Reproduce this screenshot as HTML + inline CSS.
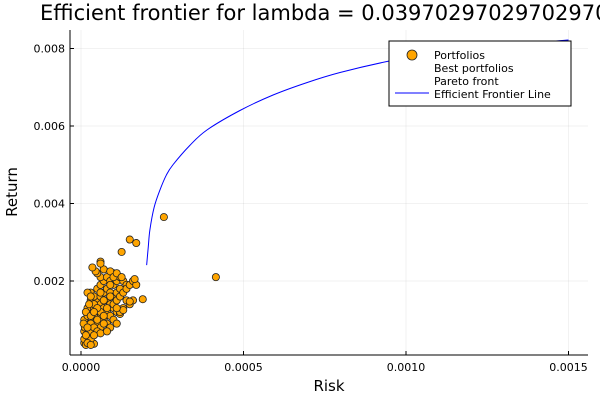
<!DOCTYPE html>
<html><head><meta charset="utf-8"><style>
body{margin:0;background:#fff;}
svg{display:block;font-family:"DejaVu Sans","Liberation Sans",sans-serif;}
</style></head><body>
<svg id="chart" width="600" height="400"></svg>
<script>
const xTicks=[0,0.0005,0.0010,0.0015];
const xTickLabels=["0.0000","0.0005","0.0010","0.0015"];
const yTicks=[0.002,0.004,0.006,0.008];
const yTickLabels=["0.002","0.004","0.006","0.008"];
// portfolios: risk (x1e-5), return (x1e-4)
const portRisk=[1,1.5,1,2,1,1.2,2,3,2.5,4,1,2,3,4,5,6,3,2,4,5,6,7,3,5,6,7,8,9,3,4,6,7,8,9,10,11,12,5,6,7,8,9,10,11,12,6,8,9,10,11,5,7,10,12,13,14,9,6,2,3,4,2.5,1.5,0.8,4,5,6,8,9,10,11,12,13,14,15,16,4,5,7,8,3,4,2,3,7,9,10,11,12,8,6,7,13,14,10,11,15,16,5,3,2,1.5,4,6,9,12.5,15,17,25.5,41.5,19,15,17,16.5,12.5,13,11,6,4.5,3.5];
const portReturn=[4,3.5,5,6,7,8,9,7,5,3.8,10,11,12,10,9,8,9,13,13,12,11,10,15,15,14,13,12,11,17,16,16,17,15,14,13,12,11.5,18,19,20,18,17,16,17,18,21,21,20,19,20,22,23,22,21,20,19,22.5,25,17,16,14,14,12,9,8,7,6.5,9,8,10,9,12,13,15,14,15,11,10,9,7,5,6,4,3.5,15,16,14,15,16,13,12,11,17,18,21,22,19,20,13,11,8,6,12,17,19,27.5,30.7,29.8,36.5,21,15.3,14.7,19,20.5,21,12.5,13,24.5,22.5,23.5];
const frontRisk=[0.000202,0.000207,0.000212,0.000225,0.000243,0.000263,0.000283,0.000335,0.000388,0.000489,0.000591,0.000695,0.000797,0.000945,0.0011,0.0013,0.0015];
const frontReturn=[0.00241,0.00288,0.00332,0.0039,0.00435,0.00474,0.00500,0.00550,0.00590,0.00640,0.00680,0.00712,0.00738,0.00767,0.00790,0.00808,0.00822];

const NS="http://www.w3.org/2000/svg";
const svg=document.getElementById('chart');
function mk(t,a,p){const e=document.createElementNS(NS,t);for(const k in a)e.setAttribute(k,a[k]);(p||svg).appendChild(e);return e;}
const X=v=>81+v*325000;
const Y=v=>281-(v-0.002)*38750;
const L=70,R=588,T=30,B=355;

const grid=mk('g',{});


xTicks.forEach((t,i)=>{
  mk('line',{x1:X(t),x2:X(t),y1:T,y2:B,stroke:'#000','stroke-opacity':0.1,'stroke-width':0.5},grid);
  mk('line',{x1:X(t),x2:X(t),y1:B,y2:B-4,stroke:'#000'});
  const tx=mk('text',{x:X(t),y:B+16,'text-anchor':'middle','font-size':11});
  tx.textContent=xTickLabels[i];
  
  
});
yTicks.forEach((t,i)=>{
  mk('line',{x1:L,x2:R,y1:Y(t),y2:Y(t),stroke:'#000','stroke-opacity':0.1,'stroke-width':0.5},grid);
  mk('line',{x1:L,x2:L+4,y1:Y(t),y2:Y(t),stroke:'#000'});
  const tx=mk('text',{x:L-5,y:Y(t)+4,'text-anchor':'end','font-size':11});
  tx.textContent=yTickLabels[i];
  
  
});
const xa=mk('line',{x1:L,x2:R,y1:B,y2:B,stroke:'#000'});


const ya=mk('line',{x1:L,x2:L,y1:T,y2:B,stroke:'#000'});



const pts=mk('g',{});


portRisk.forEach((r,i)=>{
  const c=mk('circle',{cx:X(r*1e-5),cy:Y(portReturn[i]*1e-4),r:3.6,fill:'#FFA500',stroke:'#222','stroke-width':0.8},pts);
  
  
});
// smooth Catmull-Rom path through frontier points
const P=frontRisk.map((r,i)=>[X(r),Y(frontReturn[i])]);
let d='M'+P[0][0]+','+P[0][1];
for(let i=0;i<P.length-1;i++){
  const p0=P[Math.max(i-1,0)],p1=P[i],p2=P[i+1],p3=P[Math.min(i+2,P.length-1)];
  const c1=[p1[0]+(p2[0]-p0[0])/6,p1[1]+(p2[1]-p0[1])/6];
  const c2=[p2[0]-(p3[0]-p1[0])/6,p2[1]-(p3[1]-p1[1])/6];
  d+=' C'+c1.join(',')+' '+c2.join(',')+' '+p2.join(',');
}
const line=mk('path',{d:d,fill:'none',stroke:'#0000ff','stroke-width':1});



const title=mk('text',{x:40,y:20,'font-size':21});
title.textContent='Efficient frontier for lambda = 0.039702970297029705';


const xt=mk('text',{x:329,y:391,'text-anchor':'middle','font-size':15});
xt.textContent='Risk';


const yt=mk('text',{x:17,y:192,'text-anchor':'middle','font-size':15,transform:'rotate(-90 17 192)'});
yt.textContent='Return';



const lg=mk('g',{});


mk('rect',{x:389,y:41,width:182,height:65,fill:'#fff',stroke:'#000','stroke-width':1},lg);
mk('circle',{cx:412,cy:55,r:5,fill:'#FFA500',stroke:'#222','stroke-width':0.8},lg);
mk('line',{x1:395,x2:429,y1:93,y2:93,stroke:'#0000ff'},lg);
['Portfolios','Best portfolios','Pareto front','Efficient Frontier Line'].forEach((s,i)=>{
  const t=mk('text',{x:434,y:59+i*13,'font-size':11},lg);
  t.textContent=s;
  
  
});
</script>
</body></html>
